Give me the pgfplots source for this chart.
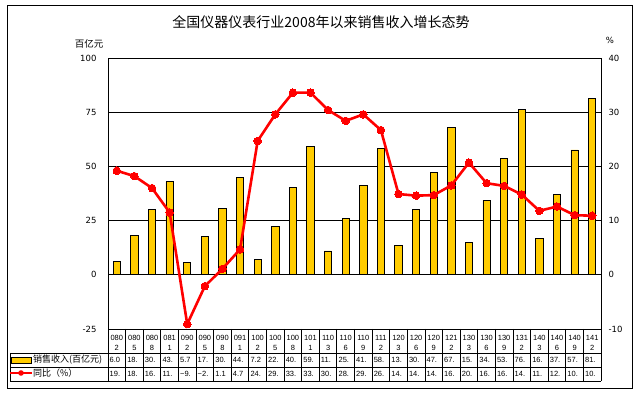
\documentclass[border=0pt]{standalone}
\usepackage{pgfplots}
\pgfplotsset{compat=1.18}
\usepackage{pgfplotstable}
\usepackage{fontspec}
\setmainfont{Liberation Sans}
\newfontfamily\cjk{Noto Sans CJK SC}
\newfontfamily\tickfont{DejaVu Sans}
\definecolor{baryellow}{RGB}{255,204,0}
\definecolor{linered}{RGB}{255,0,0}

\pgfplotstableread{
x sales growth
0 6.0 19.2
1 18.0 18.2
2 30.0 16.0
3 43.0 11.5
4 5.7 -9.1
5 17.5 -2.1
6 30.4 1.1
7 44.8 4.7
8 7.2 24.7
9 22.5 29.6
10 40.2 33.6
11 59.4 33.6
12 11.0 30.4
13 25.9 28.4
14 41.2 29.6
15 58.3 26.7
16 13.4 14.9
17 30.1 14.6
18 47.2 14.7
19 67.8 16.5
20 14.8 20.7
21 34.3 16.9
22 53.7 16.4
23 76.4 14.8
24 16.7 11.8
25 37.0 12.6
26 57.6 11.0
27 81.5 10.9
}\datatable

\begin{document}
\begin{tikzpicture}[x=1pt,y=1pt]
\useasboundingbox (0,0) rectangle (640,393);
\draw[line width=0.9pt] (7,5) rectangle (632,388);

\begin{axis}[
  at={(108pt,64pt)}, anchor=south west, scale only axis,
  width=493pt, height=271pt,
  xmin=-0.5, xmax=27.5, ymin=-25, ymax=100,
  ytick={-25,0,25,50,75,100}, xtick=\empty,
  ytick pos=left,
  ymajorgrids, grid style={black, line width=0.8pt},
  major tick length=0pt,
  axis line style={line width=0.8pt},
  ticklabel style={font=\tickfont\fontsize{8.5}{10}\selectfont},
  /pgf/number format/assume math mode=true,
  yticklabel style={xshift=-8pt},
  clip=false,
]
\addplot[ybar, bar width=7.3pt, fill=baryellow, draw=black, line width=0.8pt]
  table[x=x,y=sales]{\datatable};
\end{axis}

\begin{axis}[
  at={(108pt,64pt)}, anchor=south west, scale only axis,
  width=493pt, height=271pt,
  xmin=-0.5, xmax=27.5, ymin=-10, ymax=40,
  ytick={-10,0,10,20,30,40},
  axis y line*=right, axis x line=none,
  major tick length=0pt,
  axis line style={line width=0.8pt},
  ticklabel style={font=\tickfont\fontsize{8.5}{10}\selectfont},
  /pgf/number format/assume math mode=true,
  yticklabel style={xshift=4pt},
  clip=false,
]
\addplot[linered, line width=2.6pt, mark=*, mark size=3.8pt,
  mark options={fill=linered, draw=linered, line width=0pt}]
  table[x=x,y=growth]{\datatable};
\end{axis}

% titles
\node[font=\cjk\fontsize{14}{16}\selectfont] at (321,371) {全国仪器仪表行业2008年以来销售收入增长态势};
\node[font=\cjk\fontsize{9.5}{11}\selectfont] at (89,349) {百亿元};
\node[font=\tickfont\fontsize{8.5}{10}\selectfont] at (610,353) {\%};

% data table
\foreach \k in {0,...,28}
  \draw[line width=0.8pt] (108+\k*17.607,64) -- (108+\k*17.607,12);
\draw[line width=0.8pt] (10,40) -- (601,40);
\draw[line width=0.8pt] (10,26) -- (601,26);
\draw[line width=0.8pt] (10,12) -- (601,12);
\draw[line width=0.8pt] (10,40) -- (10,12);

\foreach \a/\b [count=\i from 0] in {080/2,080/5,080/8,081/1,090/2,090/5,090/8,091/1,100/2,100/5,100/8,101/1,110/3,110/6,110/9,111/2,120/3,120/6,120/9,121/2,130/3,130/6,130/9,131/2,140/3,140/6,140/9,141/2}{
  \node[font=\fontsize{7.5}{8}\selectfont, inner sep=0pt] at (108+\i*17.607+8.8,55) {\a};
  \node[font=\fontsize{7.5}{8}\selectfont, inner sep=0pt] at (108+\i*17.607+8.8,45) {\b};
}
\foreach \v [count=\i from 0] in {6.0,18.,30.,43.,5.7,17.,30.,44.,7.2,22.,40.,59.,11.,25.,41.,58.,13.,30.,47.,67.,15.,34.,53.,76.,16.,37.,57.,81.}{
  \node[font=\fontsize{7.5}{8}\selectfont, inner sep=0pt, anchor=west] at (108+\i*17.607+1.5,33) {\v};
}
\foreach \v [count=\i from 0] in {19.,18.,16.,11.,−9.,−2.,1.1,4.7,24.,29.,33.,33.,30.,28.,29.,26.,14.,14.,14.,16.,20.,16.,16.,14.,11.,12.,10.,10.}{
  \node[font=\fontsize{7.5}{8}\selectfont, inner sep=0pt, anchor=west] at (108+\i*17.607+1.5,19) {\v};
}

% legend keys in table
\draw[fill=baryellow, line width=0.8pt] (11,30) rectangle (31,36);
\draw[linered, line width=2.6pt] (10,20) -- (32,20);
\fill[linered] (21,20) circle (2.8pt);
\node[font=\cjk\fontsize{9}{10}\selectfont, anchor=west, inner sep=0pt] at (33,33) {销售收入(百亿元)};
\node[font=\cjk\fontsize{9}{10}\selectfont, anchor=west, inner sep=0pt] at (33,19.5) {同比（\%）};
\end{tikzpicture}
\end{document}
